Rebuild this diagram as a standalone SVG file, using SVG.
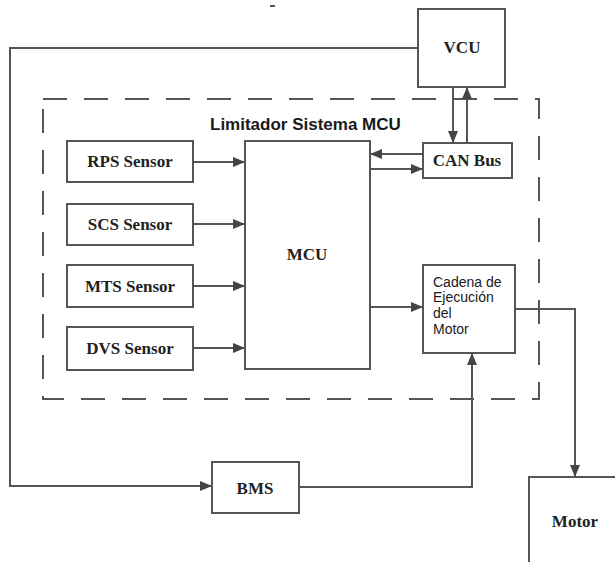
<svg xmlns="http://www.w3.org/2000/svg" width="615" height="562" viewBox="0 0 615 562">
<style>
.box{fill:#fff;stroke:#555;stroke-width:2}
.ln{fill:none;stroke:#555;stroke-width:2}
.lab{font-family:"Liberation Serif",serif;font-weight:bold;font-size:17px;fill:#222;text-anchor:middle}
.sans{font-family:"Liberation Sans",Arial,sans-serif;fill:#1a1a1a}
</style>
<defs>
<marker id="ah" markerUnits="userSpaceOnUse" markerWidth="12" markerHeight="10" refX="11" refY="5" orient="auto">
<path d="M0,0 L12,5 L0,10 Z" fill="#444"/>
</marker>
</defs>
<rect width="615" height="562" fill="#fff"/>
<line x1="270" y1="6" x2="275" y2="6" stroke="#555" stroke-width="2"/>
<g id="limitador">
<rect x="43" y="99" width="496" height="300" fill="none" stroke="#555" stroke-width="2" stroke-dasharray="24 17"/>
<text class="sans" x="210" y="130" font-size="17" font-weight="bold">Limitador Sistema MCU</text>
</g>
<g id="connectors">
<polyline class="ln" points="418,48 10,48 10,486 211,486" marker-end="url(#ah)"/>
<polyline class="ln" points="299,487 472,487 472,354" marker-end="url(#ah)"/>
<polyline class="ln" points="515,309 575,309 575,476" marker-end="url(#ah)"/>
<line class="ln" x1="453" y1="87" x2="453" y2="142" marker-end="url(#ah)"/>
<line class="ln" x1="467" y1="143" x2="467" y2="88" marker-end="url(#ah)"/>
<line class="ln" x1="423" y1="154" x2="371" y2="154" marker-end="url(#ah)"/>
<line class="ln" x1="370" y1="169" x2="422" y2="169" marker-end="url(#ah)"/>
<line class="ln" x1="370" y1="307" x2="422" y2="307" marker-end="url(#ah)"/>
<line class="ln" x1="193" y1="162" x2="244" y2="162" marker-end="url(#ah)"/>
<line class="ln" x1="193" y1="224" x2="244" y2="224" marker-end="url(#ah)"/>
<line class="ln" x1="193" y1="286" x2="244" y2="286" marker-end="url(#ah)"/>
<line class="ln" x1="193" y1="348" x2="244" y2="348" marker-end="url(#ah)"/>
</g>
<g id="vcu">
<rect class="box" x="418" y="9" width="87" height="78"/>
<text class="lab" x="462" y="53">VCU</text>
</g>
<g id="rps">
<rect class="box" x="67" y="141" width="126" height="41"/>
<text class="lab" x="130" y="167">RPS Sensor</text>
</g>
<g id="scs">
<rect class="box" x="67" y="204" width="126" height="41"/>
<text class="lab" x="130" y="230">SCS Sensor</text>
</g>
<g id="mts">
<rect class="box" x="67" y="265" width="126" height="42"/>
<text class="lab" x="130" y="292">MTS Sensor</text>
</g>
<g id="dvs">
<rect class="box" x="67" y="327" width="126" height="43"/>
<text class="lab" x="130" y="354">DVS Sensor</text>
</g>
<g id="mcu">
<rect class="box" x="245" y="141" width="125" height="228"/>
<text class="lab" x="307" y="260">MCU</text>
</g>
<g id="canbus">
<rect class="box" x="423" y="143" width="89" height="35"/>
<text class="lab" x="467" y="166">CAN Bus</text>
</g>
<g id="cadena">
<rect class="box" x="423" y="265" width="92" height="88"/>
<text class="sans" x="433" y="287" font-size="14">Cadena de</text>
<text class="sans" x="433" y="302" font-size="14">Ejecución</text>
<text class="sans" x="433" y="318" font-size="14">del</text>
<text class="sans" x="433" y="334" font-size="14">Motor</text>
</g>
<g id="bms">
<rect class="box" x="212" y="462" width="87" height="51"/>
<text class="lab" x="255" y="494">BMS</text>
</g>
<g id="motor">
<rect class="box" x="529" y="477" width="100" height="100"/>
<text class="lab" x="575" y="527">Motor</text>
</g>
</svg>
